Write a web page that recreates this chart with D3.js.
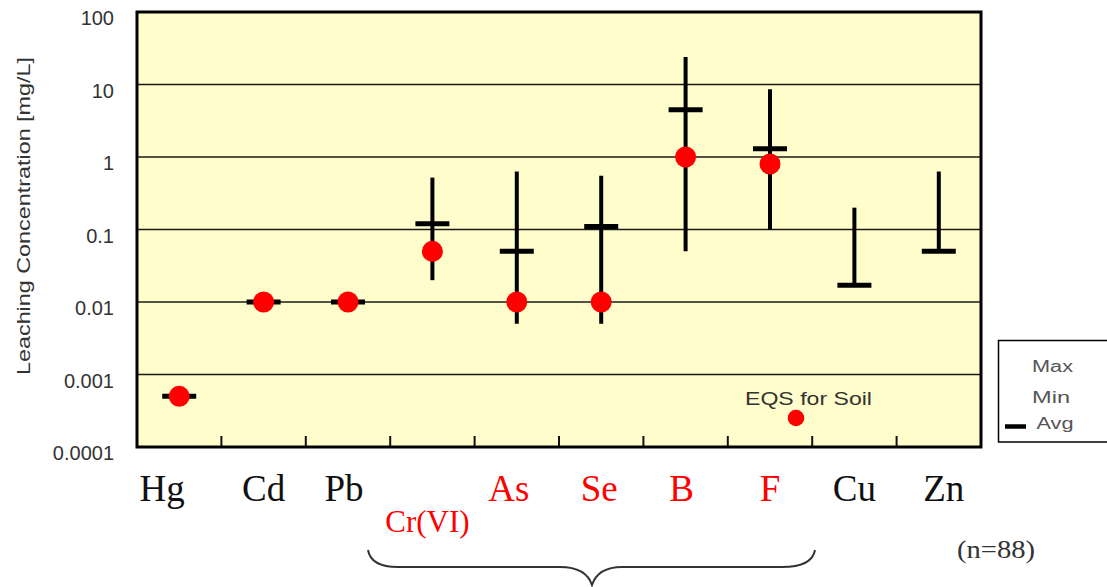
<!DOCTYPE html>
<html>
<head>
<meta charset="utf-8">
<script src="https://cdn.jsdelivr.net/npm/d3@7"></script>
<style>
  body { margin: 0; background: #fff; }
  svg { display: block; }
</style>
</head>
<body>
<div id="chart"></div>
<script>
// data (mg/L)
const elements = ["Hg", "Cd", "Pb", "Cr(VI)", "As", "Se", "B", "F", "Cu", "Zn"];
const maxVals = [0.0005, 0.01, 0.01, 0.52, 0.63, 0.55, 24, 8.6, 0.2, 0.63];
const minVals = [0.0005, 0.01, 0.01, 0.02, 0.005, 0.005, 0.05, 0.1, 0.017, 0.05];
const avgVals = [0.0005, 0.01, 0.01, 0.12, 0.05, 0.11, 4.5, 1.3, 0.017, 0.05];
const eqsVals = [0.0005, 0.01, 0.01, 0.05, 0.01, 0.01, 1, 0.8, null, null];
const redElements = ["Cr(VI)", "As", "Se", "B", "F"];
const yTicks = [0.0001, 0.001, 0.01, 0.1, 1, 10, 100];
const yTickLabels = ["0.0001", "0.001", "0.01", "0.1", "1", "10", "100"];

const W = 1107, H = 587;
const plot = {left: 137, top: 12, right: 981, bottom: 447};

const svg = d3.select("#chart").append("svg")
  .attr("width", W)
  .attr("height", H);

const x = d3.scaleBand()
  .domain(elements)
  .range([plot.left, plot.right])
  .padding(0);

const y = d3.scaleLog()
  .domain([0.0001, 100])
  .range([plot.bottom, plot.top]);

// plot background
svg.append("rect")
  .attr("x", plot.left)
  .attr("y", plot.top)
  .attr("width", plot.right - plot.left)
  .attr("height", plot.bottom - plot.top)
  .attr("fill", "#fefdcb");

// gridlines
svg.append("g")
  .selectAll("line")
  .data(yTicks.slice(1, -1))
  .join("line")
    .attr("x1", plot.left)
    .attr("x2", plot.right)
    .attr("y1", d => y(d))
    .attr("y2", d => y(d))
    .attr("stroke", "#1a1a1a")
    .attr("stroke-width", 1.6);

// small ticks between categories
svg.append("g")
  .selectAll("line")
  .data(elements.slice(1))
  .join("line")
    .attr("x1", d => x(d))
    .attr("x2", d => x(d))
    .attr("y1", plot.bottom)
    .attr("y2", plot.bottom - 11)
    .attr("stroke", "#111")
    .attr("stroke-width", 2);

// y axis labels
const yAxis = svg.append("g")
  .attr("transform", `translate(${plot.left},0)`)
  .call(d3.axisLeft(y)
    .tickValues(yTicks)
    .tickFormat((d, i) => yTickLabels[i])
    .tickSize(0)
    .tickPadding(23));
yAxis.select(".domain").remove();
yAxis.selectAll("text")
  .attr("dy", 12.5)
  .attr("fill", "#333")
  .style("font-family", "Liberation Sans, Arial, sans-serif")
  .style("font-size", "20px");

// axis title
svg.append("text")
  .attr("transform", "translate(30,216) rotate(-90)")
  .attr("text-anchor", "middle")
  .attr("fill", "#333")
  .attr("textLength", 318)
  .attr("lengthAdjust", "spacingAndGlyphs")
  .style("font-family", "Liberation Sans, Arial, sans-serif")
  .style("font-size", "19px")
  .text("Leaching Concentration [mg/L]");

const rows = elements.map((e, i) => ({
  name: e, max: maxVals[i], min: minVals[i], avg: avgVals[i], eqs: eqsVals[i]
}));
const cx = d => x(d.name) + x.bandwidth() / 2;

// max-min lines
svg.append("g")
  .selectAll("line")
  .data(rows.filter(d => d.max > d.min))
  .join("line")
    .attr("x1", cx)
    .attr("x2", cx)
    .attr("y1", d => y(d.max))
    .attr("y2", d => y(d.min))
    .attr("stroke", "#000")
    .attr("stroke-width", 4);

// average bars
svg.append("g")
  .selectAll("line")
  .data(rows)
  .join("line")
    .attr("x1", d => cx(d) - 17)
    .attr("x2", d => cx(d) + 17)
    .attr("y1", d => y(d.avg))
    .attr("y2", d => y(d.avg))
    .attr("stroke", "#000")
    .attr("stroke-width", 5);

// EQS points
svg.append("g")
  .selectAll("circle")
  .data(rows.filter(d => d.eqs != null))
  .join("circle")
    .attr("cx", cx)
    .attr("cy", d => y(d.eqs))
    .attr("r", 10.5)
    .attr("fill", "#ff0000");

// EQS key inside plot
svg.append("text")
  .attr("x", 745)
  .attr("y", 405)
  .attr("fill", "#333")
  .attr("textLength", 127)
  .attr("lengthAdjust", "spacingAndGlyphs")
  .style("font-family", "Liberation Sans, Arial, sans-serif")
  .style("font-size", "19px")
  .text("EQS for Soil");
svg.append("circle")
  .attr("cx", 796)
  .attr("cy", 418)
  .attr("r", 8.3)
  .attr("fill", "#ff0000");

// plot border
svg.append("rect")
  .attr("x", plot.left)
  .attr("y", plot.top)
  .attr("width", plot.right - plot.left)
  .attr("height", plot.bottom - plot.top)
  .attr("fill", "none")
  .attr("stroke", "#000")
  .attr("stroke-width", 3);

// category labels (the original labels sit a little off the band centres)
const labelNudge = {"Hg": -17, "Pb": -4, "Cr(VI)": -5, "As": -8, "Se": -2, "B": -4, "Zn": 5};
svg.append("g")
  .selectAll("text")
  .data(elements)
  .join("text")
    .attr("x", d => x(d) + x.bandwidth() / 2 + (labelNudge[d] || 0))
    .attr("y", d => d === "Cr(VI)" ? 532 : 501)
    .attr("text-anchor", "middle")
    .attr("fill", d => redElements.includes(d) ? "#ff0000" : "#111")
    .style("font-family", "Liberation Serif, Times New Roman, serif")
    .style("font-size", d => d === "Cr(VI)" ? "31px" : "37px")
    .text(d => d);

// brace under the red elements
svg.append("path")
  .attr("d", "M368,550 Q371,567 398,567 L560,567 Q586,567 592,585 Q598,567 622,567 L782,567 Q812,567 815,550")
  .attr("fill", "none")
  .attr("stroke", "#333")
  .attr("stroke-width", 2);

svg.append("text")
  .attr("x", 957)
  .attr("y", 558)
  .attr("fill", "#333")
  .attr("textLength", 78)
  .attr("lengthAdjust", "spacingAndGlyphs")
  .style("font-family", "Liberation Serif, Times New Roman, serif")
  .style("font-size", "26px")
  .text("(n=88)");

// legend box
const legend = svg.append("g");
legend.append("rect")
  .attr("x", 998.5)
  .attr("y", 340.5)
  .attr("width", 130)
  .attr("height", 101.5)
  .attr("fill", "#fff")
  .attr("stroke", "#000")
  .attr("stroke-width", 1.5);
const legendItems = ["Max", "Min", "Avg"];
const legendY = [371.5, 403, 428.5];
const legendLen = [41, 38, 37];
legend.selectAll("text")
  .data(legendItems)
  .join("text")
    .attr("x", (d, i) => d === "Avg" ? 1036.5 : 1032)
    .attr("y", (d, i) => legendY[i])
    .attr("fill", "#555")
    .attr("textLength", (d, i) => legendLen[i])
    .attr("lengthAdjust", "spacingAndGlyphs")
    .style("font-family", "Liberation Sans, Arial, sans-serif")
    .style("font-size", "16px")
    .text(d => d);
legend.append("line")
  .attr("x1", 1005)
  .attr("x2", 1026)
  .attr("y1", 426.5)
  .attr("y2", 426.5)
  .attr("stroke", "#000")
  .attr("stroke-width", 4.5);
</script>
</body>
</html>
